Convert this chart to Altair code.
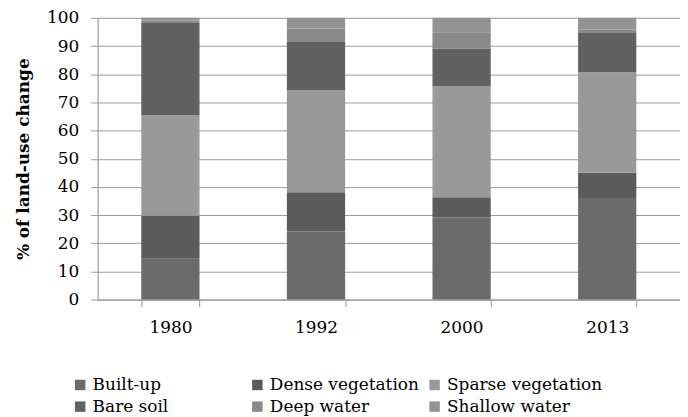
import altair as alt
import pandas as pd

years = ["1980", "1992", "2000", "2013"]
classes = ["Built-up", "Dense vegetation", "Sparse vegetation",
           "Bare soil", "Deep water", "Shallow water"]
built_up = [14.5, 24.2, 29.1, 36.1]
dense_veg = [15.3, 13.9, 7.2, 8.9]
sparse_veg = [35.6, 36.3, 39.4, 35.7]
bare_soil = [32.8, 17.0, 13.3, 13.9]
deep_water = [0.8, 4.8, 5.9, 1.3]
shallow_water = [1.0, 3.8, 5.1, 4.1]
colors = ["#6b6b6b", "#5b5b5b", "#999999", "#616161", "#898989", "#939393"]
y_ticks = [0, 10, 20, 30, 40, 50, 60, 70, 80, 90, 100]

series = [built_up, dense_veg, sparse_veg, bare_soil, deep_water, shallow_water]
rows = []
for ci, (cls, vals) in enumerate(zip(classes, series)):
    for yr, v in zip(years, vals):
        rows.append({"year": yr, "cls": cls, "value": v, "order": ci})
df = pd.DataFrame(rows)

font = "DejaVu Serif"

chart = alt.Chart(df).mark_bar().encode(
    x=alt.X("year:N", sort=years, title=None,
            scale=alt.Scale(paddingInner=0.6, paddingOuter=0.3),
            axis=alt.Axis(labelAngle=0, tickBand="extent", ticks=True, tickSize=7,
                          labelPadding=13, domainColor="#999999", tickColor="#999999",
                          labelFont=font, labelFontSize=17, labelColor="#000000",
                          grid=False)),
    y=alt.Y("value:Q", stack="zero", title="% of land-use change",
            scale=alt.Scale(domain=[0, 100], nice=False),
            axis=alt.Axis(values=y_ticks, tickSize=7, labelPadding=12,
                          domainColor="#999999", tickColor="#999999",
                          gridColor="#9a9a9a", grid=True,
                          labelFont=font, labelFontSize=17, labelColor="#000000",
                          titleFont=font, titleFontSize=17, titleFontWeight="bold",
                          titleColor="#000000", titlePadding=14)),
    color=alt.Color("cls:N", sort=classes,
                    scale=alt.Scale(domain=classes, range=colors),
                    legend=alt.Legend(title=None, orient="none", legendX=-26, legendY=360,
                                      direction="horizontal", columns=3, gridAlign="all",
                                      columnPadding=0, rowPadding=4,
                                      symbolType="square", symbolSize=110,
                                      symbolStrokeWidth=0, labelOffset=4,
                                      labelFont=font, labelFontSize=17,
                                      labelColor="#000000", labelLimit=300)),
    order=alt.Order("order:Q", sort="ascending"),
).properties(
    width=585, height=283, padding={"left": 6, "top": 0, "right": 0, "bottom": 0}
).configure_view(stroke=None).configure(background="white", font=font)

chart.save("out.html", embed_options={"renderer": "svg", "actions": False})
